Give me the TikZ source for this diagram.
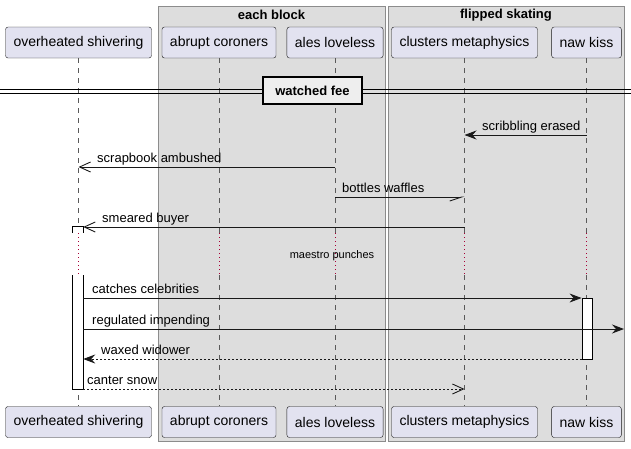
\documentclass[tikz,border=0pt]{standalone}
\usepackage{fontspec}
\setmainfont{Liberation Sans}
\usetikzlibrary{arrows.meta}
\definecolor{partfill}{HTML}{E2E2F0}
\definecolor{groupfill}{HTML}{DDDDDD}
\definecolor{dividerfill}{HTML}{EEEEEE}
\definecolor{delayred}{HTML}{A80036}

\begin{document}
\begin{tikzpicture}[x=1pt,y=-1pt,
  every node/.style={font=\fontsize{13}{15}\selectfont},
  part/.style={draw=black!90,fill=partfill,rounded corners=2.5pt,minimum height=31pt,inner xsep=8pt,font=\fontsize{14}{16}\selectfont},
  groupbox/.style={draw=black!45,line width=0.8pt,fill=groupfill},
  grouptitle/.style={font=\fontsize{13}{15}\selectfont\bfseries},
  life/.style={black!65,line width=0.6pt,dash pattern=on 5pt off 5pt},
  delayline/.style={delayred,line width=0.8pt,dash pattern=on 1pt off 3pt},
  actbar/.style={draw=black,fill=white,line width=0.9pt},
  msg/.style={black!90,line width=0.9pt},
  reply/.style={msg,dash pattern=on 2pt off 2pt},
  tipfill/.style={-{Stealth[length=12pt,width=9pt,inset=4pt]}},
  tipopen/.style={-{Straight Barb[length=11pt,width=10pt]}},
  tiphalf/.style={-{Straight Barb[length=12pt,width=8pt,right]}},
  lbl/.style={anchor=base west,inner sep=0pt}]
\useasboundingbox (0,0) rectangle (631,448);
% groups
\draw[groupbox] (158,6) rectangle (385,441);
\draw[groupbox] (388,6) rectangle (624,441);
\node[grouptitle] (g1) at (271.5,15) {each block};
\node[grouptitle] (g2) at (506,15) {flipped skating};
% participants, top and bottom
\node[part] (os) at (78.5,42.5) {overheated shivering};
\node[part] (ac) at (219,42.5) {abrupt coroners};
\node[part] (al) at (335,42.5) {ales loveless};
\node[part] (cm) at (464.5,42.5) {clusters metaphysics};
\node[part] (nk) at (586.5,42.5) {naw kiss};
\node[part] (os2) at (78.5,422) {overheated shivering};
\node[part] (ac2) at (219,422) {abrupt coroners};
\node[part] (al2) at (335,422) {ales loveless};
\node[part] (cm2) at (464.5,422) {clusters metaphysics};
\node[part] (nk2) at (586.5,422) {naw kiss};
% delay band
\coordinate (dtop) at (0,233);
\coordinate (dbot) at (0,275);
\foreach \p in {os,ac,al,cm,nk} {
  \draw[life] (\p.south) -- (\p.south |- dtop);
  \draw[delayline] (\p.south |- dtop) -- (\p.south |- dbot);
  \draw[life] (\p.south |- dbot) -- (\p2.north);
}
\node[font=\fontsize{11}{13}\selectfont] (delay) at (332,256) {maestro punches};
% divider
\draw[line width=1pt] (0,89) -- (631,89) (0,93.5) -- (631,93.5);
\node[draw=black,line width=1.5pt,fill=dividerfill,minimum width=99pt,minimum height=27pt,grouptitle] (fee) at (312.5,90.5) {watched fee};
% activations
\node[minimum width=10pt,minimum height=162pt,inner sep=0pt] (osact) at (78,308) {};
\filldraw[actbar] (osact.west |- dtop) |- (osact.north east) -- (osact.east |- dtop);
\filldraw[actbar] (osact.west |- dbot) |- (osact.south east) -- (osact.east |- dbot);
\node[actbar,minimum width=10pt,minimum height=61pt,inner sep=0pt] (nkact) at (587,328.5) {};
% messages
\coordinate (m1) at (0,135);
\coordinate (m2) at (0,167);
\coordinate (m3) at (0,197);
\coordinate (m4) at (0,227);
\coordinate (m6) at (0,298);
\coordinate (m7) at (0,329);
\coordinate (m8) at (0,359);
\coordinate (m9) at (0,389);
\coordinate (edge) at (624,0);
\draw[msg,tipfill] (nk |- m1) -- (cm |- m1);
\node[lbl] (t1) at (482,130.5) {scribbling erased};
\draw[msg,tipopen] (al |- m2) -- (os |- m2);
\node[lbl] (t2) at (97,162.5) {scrapbook ambushed};
\draw[msg,tiphalf] (al |- m3) -- (cm |- m3);
\node[lbl] (t3) at (342,192.5) {bottles waffles};
\draw[msg,tipopen] (cm |- m4) -- (osact.east |- m4);
\node[lbl] (t4) at (102,222.5) {smeared buyer};
\draw[msg,tipfill] (osact.east |- m6) -- (nkact.west |- m6);
\node[lbl] (t6) at (92,293.5) {catches celebrities};
\draw[msg,tipfill] (osact.east |- m7) -- (edge |- m7);
\node[lbl] (t7) at (92,324.5) {regulated impending};
\draw[reply,tipfill] (nkact.west |- m8) -- (osact.east |- m8);
\node[lbl] (t8) at (101,354.5) {waxed widower};
\draw[reply,tipopen] (osact.east |- m9) -- (cm |- m9);
\node[lbl] (t9) at (87,384.5) {canter snow};
\end{tikzpicture}
\end{document}
